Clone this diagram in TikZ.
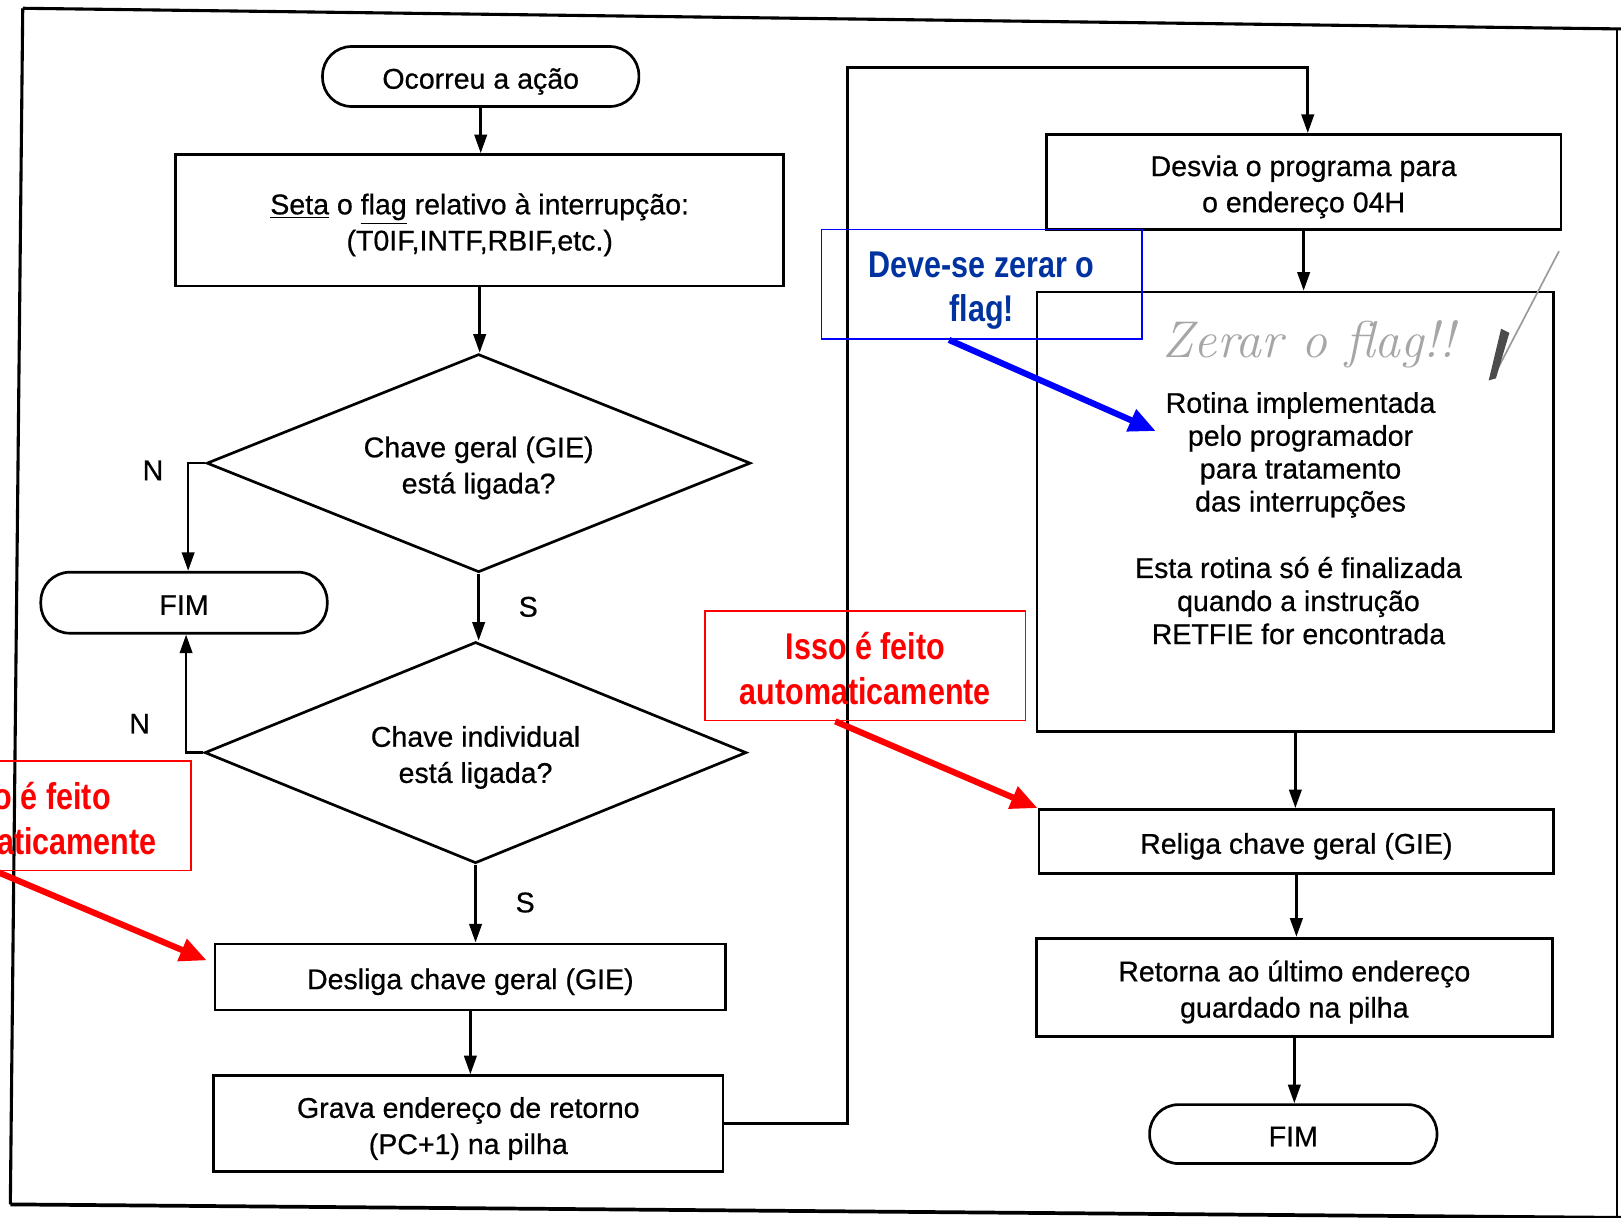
\documentclass[tikz,border=0pt]{standalone}
\usepackage{fontspec}
\setmainfont{Liberation Sans}[FakeBold=0.6]
\newfontfamily\annfont[FakeStretch=0.82]{Liberation Sans}
\newfontfamily\handfont{Latin Modern Roman}
\usetikzlibrary{shapes.geometric,arrows.meta,calc}
\definecolor{annblue}{RGB}{0,51,160}
\definecolor{boxblue}{RGB}{0,0,255}
\definecolor{annred}{RGB}{255,0,0}
\newcommand{\boxtext}[1]{\raisebox{-2.4pt}[\height][\depth]{\begin{tabular}{@{}c@{}}#1\end{tabular}}}
\newcommand{\anntext}[2]{\raisebox{#1}[\height][\depth]{\begin{tabular}{@{}c@{}}#2\end{tabular}}}
\tikzset{
  base/.style={font=\fontsize{13.8}{17.5}\selectfont, align=center, inner sep=0pt},
  box/.style={base, draw, line width=1.3pt, rectangle},
  term/.style={base, draw, line width=1.3pt, rectangle, rounded corners=14pt},
  dec/.style={base, draw, line width=1.3pt, diamond, shape aspect=2.5},
  flow/.style={line width=1.3pt, -{Triangle[length=9pt,width=6pt]}},
  lbl/.style={font=\fontsize{13.8}{17.5}\selectfont, inner sep=0pt},
  ann/.style={font=\annfont\bfseries\fontsize{18}{21.5}\selectfont, align=center, inner sep=0pt, line width=0.8pt, minimum width=155pt, minimum height=53pt},
  annarrow/.style={line width=3pt, -{Triangle[length=13pt,width=11pt]}}
}
\begin{document}
\begin{tikzpicture}[x=0.5pt,y=-0.5pt]
\useasboundingbox (0,0) rectangle (1568,1178);
\clip (0,0) rectangle (1568,1178);
\fill[white] (0,0) rectangle (1568,1178);
% scanned frame
\draw[line width=1.5pt] (22,8) -- (1568,28);
\draw[line width=1.5pt] (22,8) -- (10,1165);
\draw[line width=1.8pt] (10,1165) -- (1568,1178);
\draw[line width=1.2pt] (1564,28) -- (1564,1178);

% left column
\node[term, minimum width=153pt, minimum height=29pt] (start) at (465,74) {\boxtext{Ocorreu a ação}};
\node[box, minimum width=294pt, minimum height=63.5pt] (seta) at (464,213) {\boxtext{\underline{Seta} o \underline{flag} relativo à interrupção:\\(T0IF,INTF,RBIF,etc.)}};
\node[dec, minimum width=263pt, minimum height=105.5pt] (d1) at (463,448) {\boxtext{Chave geral (GIE)\\está ligada?}};
\node[term, minimum width=138.5pt, minimum height=29.5pt] (fimL) at (178,583) {\boxtext{FIM}};
\node[dec, minimum width=262pt, minimum height=107pt] (d2) at (460,728) {\boxtext{Chave individual\\está ligada?}};
\node[box, minimum width=247pt, minimum height=32pt] (desliga) at (455,945) {\boxtext{Desliga chave geral (GIE)}};
\node[box, minimum width=246.5pt, minimum height=46.5pt] (grava) at (453,1087) {\boxtext{Grava endereço de retorno\\(PC+1) na pilha}};

% right column
\node[box, minimum width=249pt, minimum height=46pt] (desvia) at (1261,176) {\boxtext{Desvia o programa para\\o endereço 04H}};
\node[box, minimum width=250pt, minimum height=212.5pt] (rotina) at (1253,495) {};
\node[base, font=\fontsize{13.8}{15.9}\selectfont] (rt1) at (1258,440) {Rotina implementada\\pelo programador\\para tratamento\\das interrupções};
\node[base, font=\fontsize{13.8}{16}\selectfont] (rt2) at (1256,581) {Esta rotina só é finalizada\\quando a instrução\\RETFIE for encontrada};
\node[box, minimum width=249pt, minimum height=31pt] (religa) at (1254,814) {\boxtext{Religa chave geral (GIE)}};
\node[box, minimum width=249.5pt, minimum height=47.5pt] (retorna) at (1252,955) {\boxtext{Retorna ao último endereço\\guardado na pilha}};
\node[term, minimum width=139pt, minimum height=28.5pt] (fimR) at (1251,1097) {\boxtext{FIM}};

% handwritten note
\node[base, text=gray!70, font=\handfont\itshape\fontsize{25}{26}\selectfont] (hand) at (1266,333) {Zerar o flag!!};
\draw[gray!80, line width=0.8pt] (1508,243) -- (1446,362);
\fill[gray!60!black] (1440,368) -- (1452,318) -- (1460,322) -- (1447,366) -- cycle;

% labels
\node[lbl] (n1) at (148,455) {N};
\node[lbl] (n2) at (135,700) {N};
\node[lbl] (s1) at (511,587) {S};
\node[lbl] (s2) at (508,873) {S};

% connectors
\draw[flow] (start.south) -- (start.south |- seta.north);
\draw[flow] (seta.south) -- (seta.south |- d1.north);
\draw[flow] (d1.west) -| ([xshift=2pt]fimL.north);
\draw[flow] (d1.south) -- (d1.south |- d2.north);
\draw[flow] (d2.west) -| ([xshift=1pt]fimL.south);
\draw[flow] (d2.south) -- (d2.south |- desliga.north);
\draw[flow] (desliga.south) -- (desliga.south |- grava.north);
\coordinate (c2) at (820,65);
\draw[flow] (grava.east) -- (grava.east -| c2) -- (c2) -| ([xshift=2pt]desvia.north);
\draw[flow] (desvia.south) -- (desvia.south |- rotina.north);
\draw[flow] (rotina.south) -- (rotina.south |- religa.north);
\draw[flow] (religa.south) -- (religa.south |- retorna.north);
\draw[flow] (retorna.south) -- (retorna.south |- fimR.north);

% annotations
\node[ann, draw=boxblue, text=annblue] (blue) at (949.5,275) {\anntext{-3pt}{Deve-se zerar o\\flag!}};
\coordinate (bluetip) at (1118,417);
\draw[annarrow, boxblue] ([xshift=-15.75pt]blue.south) -- (bluetip);

\node[ann, draw=annred, text=annred] (redM) at (837,644) {\anntext{-3.5pt}{Isso é feito\\automaticamente}};
\draw[annarrow, annred] ([xshift=-14.5pt]redM.south) -- (religa.north west);

\node[ann, draw=annred, text=annred] (redL) at (30,789) {\anntext{-3.5pt}{Isso é feito\\automaticamente}};
\coordinate (redtip) at (200,929);
\draw[annarrow, annred] ([xshift=-17pt]redL.south) -- (redtip);
\end{tikzpicture}
\end{document}
